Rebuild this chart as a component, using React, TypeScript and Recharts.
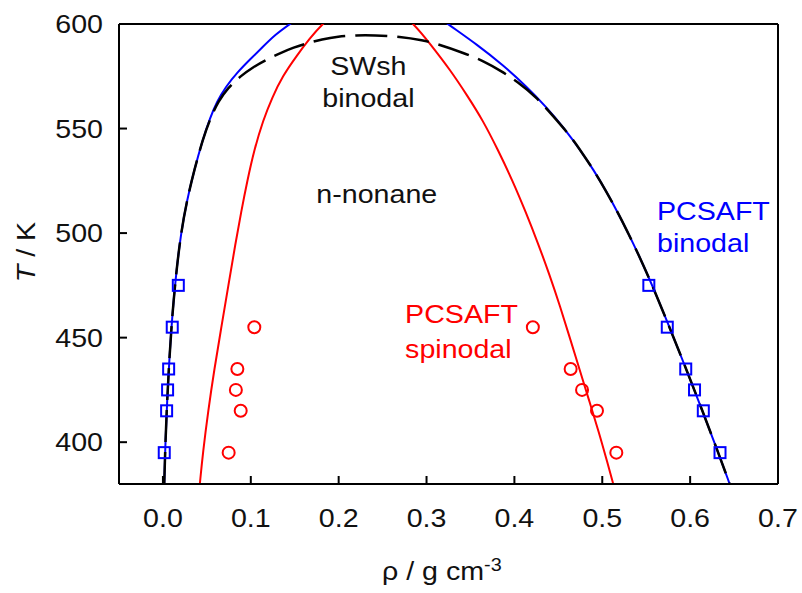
import React from 'react';
import { ComposedChart, Line, Scatter, XAxis, YAxis, ReferenceLine, ReferenceDot } from 'recharts';

const FONT = '"Liberation Sans", Arial, Helvetica, sans-serif';
const STRETCH = 1.1; // the original lettering is a little wider than Arial
const BLUE = '#0000ff';
const RED = '#ff0000';
const INK = '#111';

// rho (g/cm3), T (K) -- each curve runs bottom-left, over the top, down to bottom-right
const pcsaftBinodal: [number, number][] = [
  [0.0015, 380], [0.0028, 400], [0.0048, 420], [0.0073, 440], [0.0105, 460], [0.0148, 480],
  [0.0205, 500], [0.027, 515], [0.0355, 530], [0.0455, 545], [0.0535, 555], [0.0615, 563],
  [0.0715, 570], [0.085, 577], [0.099, 583], [0.1135, 589], [0.128, 595], [0.1445, 600],
  [0.165, 606], [0.19, 610], [0.235, 612.5], [0.28, 610.5], [0.305, 606], [0.324, 600],
  [0.358, 590], [0.388, 580], [0.414, 570], [0.437, 560], [0.457, 550], [0.4745, 540],
  [0.4905, 530], [0.5045, 520], [0.5175, 510], [0.5295, 500], [0.541, 490], [0.557, 475],
  [0.5765, 455], [0.5955, 435], [0.614, 415], [0.632, 395], [0.645, 380],
];

const swshBinodal: [number, number][] = [
  [0.0015, 380], [0.0028, 400], [0.0048, 420], [0.0073, 440], [0.0105, 460], [0.0148, 480],
  [0.0205, 500], [0.027, 515], [0.0355, 530], [0.0455, 545], [0.054, 555], [0.063, 563],
  [0.074, 569.5], [0.088, 575], [0.103, 579.5], [0.118, 583], [0.133, 586], [0.149, 588.8],
  [0.164, 590.8], [0.181, 592.7], [0.199, 594], [0.22, 594.6], [0.24, 594.6], [0.27, 594],
  [0.296, 592.2], [0.312, 590.5], [0.342, 586.2], [0.365, 582.3], [0.385, 577.5], [0.403, 572.5],
  [0.425, 565], [0.444, 556], [0.4635, 546.5], [0.4745, 540], [0.4905, 530], [0.5045, 520],
  [0.5175, 510], [0.5295, 500], [0.541, 490], [0.557, 475], [0.5765, 455], [0.5955, 435],
  [0.614, 415], [0.632, 395], [0.645, 380],
];

const pcsaftSpinodal: [number, number][] = [
  [0.042, 380], [0.0455, 395], [0.0515, 415], [0.0585, 435], [0.0665, 455], [0.0745, 475],
  [0.0825, 495], [0.089, 510], [0.096, 525], [0.104, 540], [0.114, 554], [0.1245, 565],
  [0.136, 575], [0.1525, 585], [0.167, 593], [0.181, 600], [0.205, 608.5], [0.234, 612],
  [0.262, 608.5], [0.286, 600], [0.305, 590], [0.327, 578], [0.346, 566], [0.364, 554],
  [0.381, 540], [0.398, 525], [0.413, 510], [0.427, 495], [0.44, 480], [0.452, 465],
  [0.463, 450], [0.474, 435], [0.485, 420], [0.496, 405], [0.506, 390], [0.5125, 380],
];

// simulation points
const coexPoints: [number, number][] = [
  [0.0015, 395], [0.0042, 415], [0.0053, 425], [0.0065, 435], [0.0106, 455], [0.0175, 475],
  [0.553, 475], [0.574, 455], [0.595, 435], [0.605, 425], [0.615, 415], [0.634, 395],
];

const spinodalPoints: [number, number][] = [
  [0.0748, 395], [0.0885, 415], [0.083, 425], [0.0847, 435], [0.104, 455],
  [0.421, 455], [0.464, 435], [0.477, 425], [0.494, 415], [0.516, 395],
];

const xTicks = [0, 0.1, 0.2, 0.3, 0.4, 0.5, 0.6, 0.7];
const yTicks = [400, 450, 500, 550, 600];

const annotations = [
  { text: 'SWsh', x: 0.2338, T: 575.6, color: INK, anchor: 'middle' },
  { text: 'binodal', x: 0.2338, T: 560.1, color: INK, anchor: 'middle' },
  { text: 'n-nonane', x: 0.2434, T: 514.5, color: INK, anchor: 'middle' },
  { text: 'PCSAFT', x: 0.2756, T: 456.8, color: RED, anchor: 'start' },
  { text: 'spinodal', x: 0.2756, T: 440.5, color: RED, anchor: 'start' },
  { text: 'PCSAFT', x: 0.5623, T: 506.2, color: BLUE, anchor: 'start' },
  { text: 'binodal', x: 0.5623, T: 491.0, color: BLUE, anchor: 'start' },
];

const rows = (pts: [number, number][]) => pts.map(([x, T]) => ({ x, T }));

const XTick = ({ x, y, payload }: any) => (
  <text
    transform={`translate(${x},${y + 18.6}) scale(${STRETCH},1)`}
    textAnchor="middle"
    fontFamily={FONT}
    fontSize={26}
    fill={INK}
  >
    {Number(payload.value).toFixed(1)}
  </text>
);

const YTick = ({ x, y, payload }: any) => (
  <text
    transform={`translate(${x},${y + 9.3}) scale(${STRETCH},1)`}
    textAnchor="end"
    fontFamily={FONT}
    fontSize={26}
    fill={INK}
  >
    {payload.value}
  </text>
);

const YLabel = (props: any) => {
  const vb = props.viewBox || { x: 0, y: 24, width: 119, height: 460 };
  return (
    <text
      transform={`translate(${vb.x + 35},${vb.y + vb.height / 2 - 2}) rotate(-90) scale(${STRETCH},1)`}
      textAnchor="middle"
      fontFamily={FONT}
      fontSize={26}
      fill={INK}
    >
      <tspan fontStyle="italic">T</tspan>
      <tspan> / K</tspan>
    </text>
  );
};

const XLabel = (props: any) => {
  const vb = props.viewBox || { x: 119, y: 484, width: 659, height: 109 };
  return (
    <text
      transform={`translate(${vb.x + 263},${vb.y + 96}) scale(${STRETCH},1)`}
      textAnchor="start"
      fontFamily={FONT}
      fontSize={26}
      fill={INK}
    >
      <tspan>ρ / g cm</tspan>
      <tspan fontSize={18} dy={-9}>-3</tspan>
    </text>
  );
};

const Square = ({ cx, cy }: any) => (
  <rect x={cx - 5.5} y={cy - 5.5} width={11} height={11} fill="none" stroke={BLUE} strokeWidth={2} />
);

const Ring = ({ cx, cy }: any) => (
  <circle cx={cx} cy={cy} r={6} fill="none" stroke={RED} strokeWidth={2} />
);

const annotationLabel = (a: (typeof annotations)[number]) => (props: any) => {
  const vb = props.viewBox;
  if (!vb) return null;
  return (
    <text
      transform={`translate(${vb.x},${vb.y}) scale(${STRETCH},1)`}
      textAnchor={a.anchor as any}
      fontFamily={FONT}
      fontSize={26}
      fill={a.color}
    >
      {a.text}
    </text>
  );
};

export default function App() {
  return (
    <div style={{ position: 'absolute', left: 0, top: 0, width: 802, height: 593, background: '#fff' }}>
      <ComposedChart width={802} height={593} margin={{ top: 24, right: 24, bottom: 0, left: 0 }}>
        <XAxis
          type="number"
          dataKey="x"
          domain={[-0.05, 0.7]}
          ticks={xTicks}
          interval={0}
          allowDataOverflow
          height={109}
          tickSize={-8}
          tickMargin={32}
          axisLine={{ stroke: '#000', strokeWidth: 2 }}
          tickLine={{ stroke: '#000', strokeWidth: 2 }}
          tick={(p: any) => <XTick {...p} />}
          label={(p: any) => <XLabel {...p} />}
        />
        <YAxis
          type="number"
          dataKey="T"
          domain={[380, 600]}
          ticks={yTicks}
          interval={0}
          allowDataOverflow
          width={119}
          tickSize={-8}
          tickMargin={24}
          axisLine={{ stroke: '#000', strokeWidth: 2 }}
          tickLine={{ stroke: '#000', strokeWidth: 2 }}
          tick={(p: any) => <YTick {...p} />}
          label={(p: any) => <YLabel {...p} />}
        />
        <ReferenceLine y={600} stroke="#000" strokeWidth={2} />
        <ReferenceLine x={0.7} stroke="#000" strokeWidth={2} />

        <Line
          data={rows(pcsaftSpinodal)}
          dataKey="T"
          type="basis"
          stroke={RED}
          strokeWidth={2}
          dot={false}
          activeDot={false}
          isAnimationActive={false}
        />
        <Line
          data={rows(pcsaftBinodal)}
          dataKey="T"
          type="basis"
          stroke={BLUE}
          strokeWidth={2}
          dot={false}
          activeDot={false}
          isAnimationActive={false}
        />
        <Line
          data={rows(swshBinodal)}
          dataKey="T"
          type="basis"
          stroke="#000"
          strokeWidth={2.5}
          strokeDasharray="32 10"
          dot={false}
          activeDot={false}
          isAnimationActive={false}
        />
        <Scatter data={rows(coexPoints)} shape={(p: any) => <Square {...p} />} isAnimationActive={false} />
        <Scatter data={rows(spinodalPoints)} shape={(p: any) => <Ring {...p} />} isAnimationActive={false} />

        {annotations.map((a, i) => (
          <ReferenceDot
            key={i}
            x={a.x}
            y={a.T}
            r={0}
            fill="none"
            stroke="none"
            label={annotationLabel(a)}
          />
        ))}
      </ComposedChart>
    </div>
  );
}
